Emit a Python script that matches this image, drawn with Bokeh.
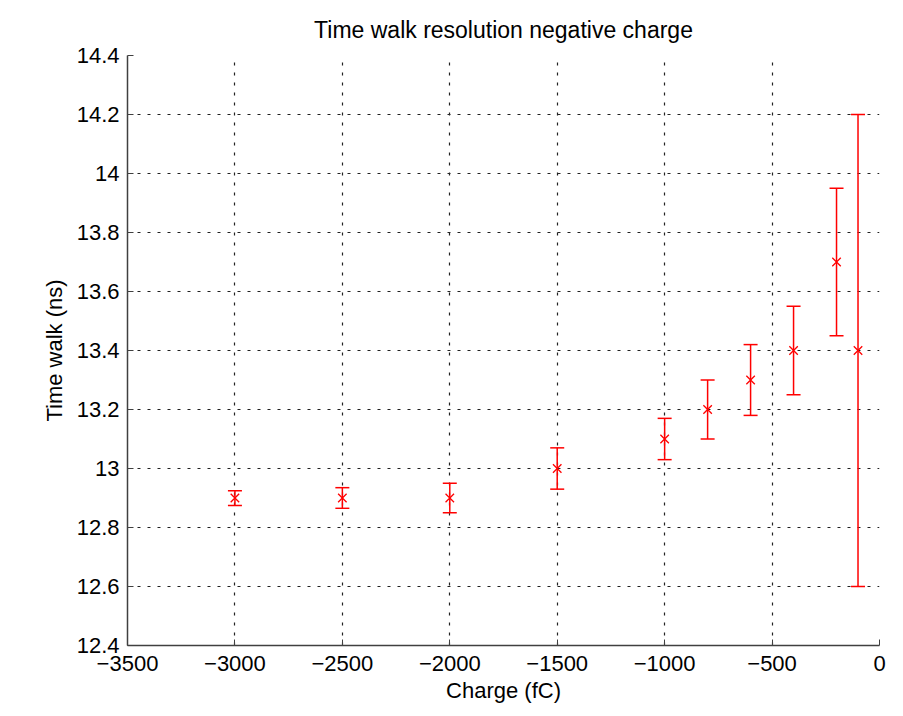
from bokeh.plotting import figure
from bokeh.models import ColumnDataSource, Whisker, TeeHead, FixedTicker, Range1d
from bokeh.embed import file_html
from bokeh.resources import INLINE

# ---- data ----
charge = [-3000, -2500, -2000, -1500, -1000, -800, -600, -400, -200, -100]
time_walk = [12.9, 12.9, 12.9, 13.0, 13.1, 13.2, 13.3, 13.4, 13.7, 13.4]
err = [0.025, 0.035, 0.05, 0.07, 0.07, 0.10, 0.12, 0.15, 0.25, 0.80]

x_ticks = [-3500, -3000, -2500, -2000, -1500, -1000, -500, 0]
x_tick_labels = ["\u22123500", "\u22123000", "\u22122500", "\u22122000",
                 "\u22121500", "\u22121000", "\u2212500", "0"]
y_ticks = [12.4, 12.6, 12.8, 13.0, 13.2, 13.4, 13.6, 13.8, 14.0, 14.2, 14.4]
y_tick_labels = ["12.4", "12.6", "12.8", "13", "13.2", "13.4", "13.6",
                 "13.8", "14", "14.2", "14.4"]

title_text = "Time walk resolution negative charge"
x_label = "Charge (fC)"
y_label = "Time walk (ns)"

FONT = "Liberation Sans"
FS = "22px"

src = ColumnDataSource(dict(
    x=charge, y=time_walk,
    lo=[v - e for v, e in zip(time_walk, err)],
    hi=[v + e for v, e in zip(time_walk, err)],
))

p = figure(frame_width=752, frame_height=590,
           min_border_left=127, min_border_right=15,
           min_border_top=55, min_border_bottom=66,
           x_range=Range1d(-3500, 0), y_range=Range1d(12.4, 14.4),
           output_backend="svg", toolbar_location=None, tools="",
           title=title_text)

p.background_fill_color = "white"
p.border_fill_color = "white"
p.outline_line_color = None

p.title.align = "center"
p.title.text_font = FONT
p.title.text_font_size = "23px"
p.title.text_font_style = "normal"
p.title.text_color = "#000000"
p.title.standoff = 25

# axes
for ax in (p.xaxis[0], p.yaxis[0]):
    ax.axis_line_color = "#404040"
    ax.axis_line_width = 1.5
    ax.major_tick_line_color = "#404040"
    ax.major_tick_in = 6
    ax.major_tick_out = 0
    ax.minor_tick_line_color = None
    ax.major_label_text_font = FONT
    ax.major_label_text_font_size = FS
    ax.major_label_text_color = "#000000"
    ax.axis_label_text_font = FONT
    ax.axis_label_text_font_size = FS
    ax.axis_label_text_font_style = "normal"
    ax.axis_label_text_color = "#000000"

p.xaxis.ticker = FixedTicker(ticks=x_ticks)
p.yaxis.ticker = FixedTicker(ticks=y_ticks)
p.xaxis.major_label_overrides = {t: l for t, l in zip(x_ticks, x_tick_labels)}
p.yaxis.major_label_overrides = {t: l for t, l in zip(y_ticks, y_tick_labels)}
p.xaxis.axis_label = x_label
p.yaxis.axis_label = y_label
p.xaxis.major_label_standoff = 10
p.yaxis.major_label_standoff = 8
p.xaxis.axis_label_standoff = 4
p.yaxis.axis_label_standoff = 7

for g in (p.xgrid[0], p.ygrid[0]):
    g.grid_line_color = "#222222"
    g.grid_line_dash = "3 7"
    g.grid_line_width = 1.2

# error bars
wh = Whisker(source=src, base="x", upper="hi", lower="lo", dimension="height",
             line_color="red", line_width=1.5,
             upper_head=TeeHead(size=14, line_color="red", line_width=1.5),
             lower_head=TeeHead(size=14, line_color="red", line_width=1.5))
p.add_layout(wh)

p.scatter("x", "y", source=src, marker="x", size=12,
          line_color="red", line_width=1.3)

open("out.html", "w").write(file_html(p, INLINE))
